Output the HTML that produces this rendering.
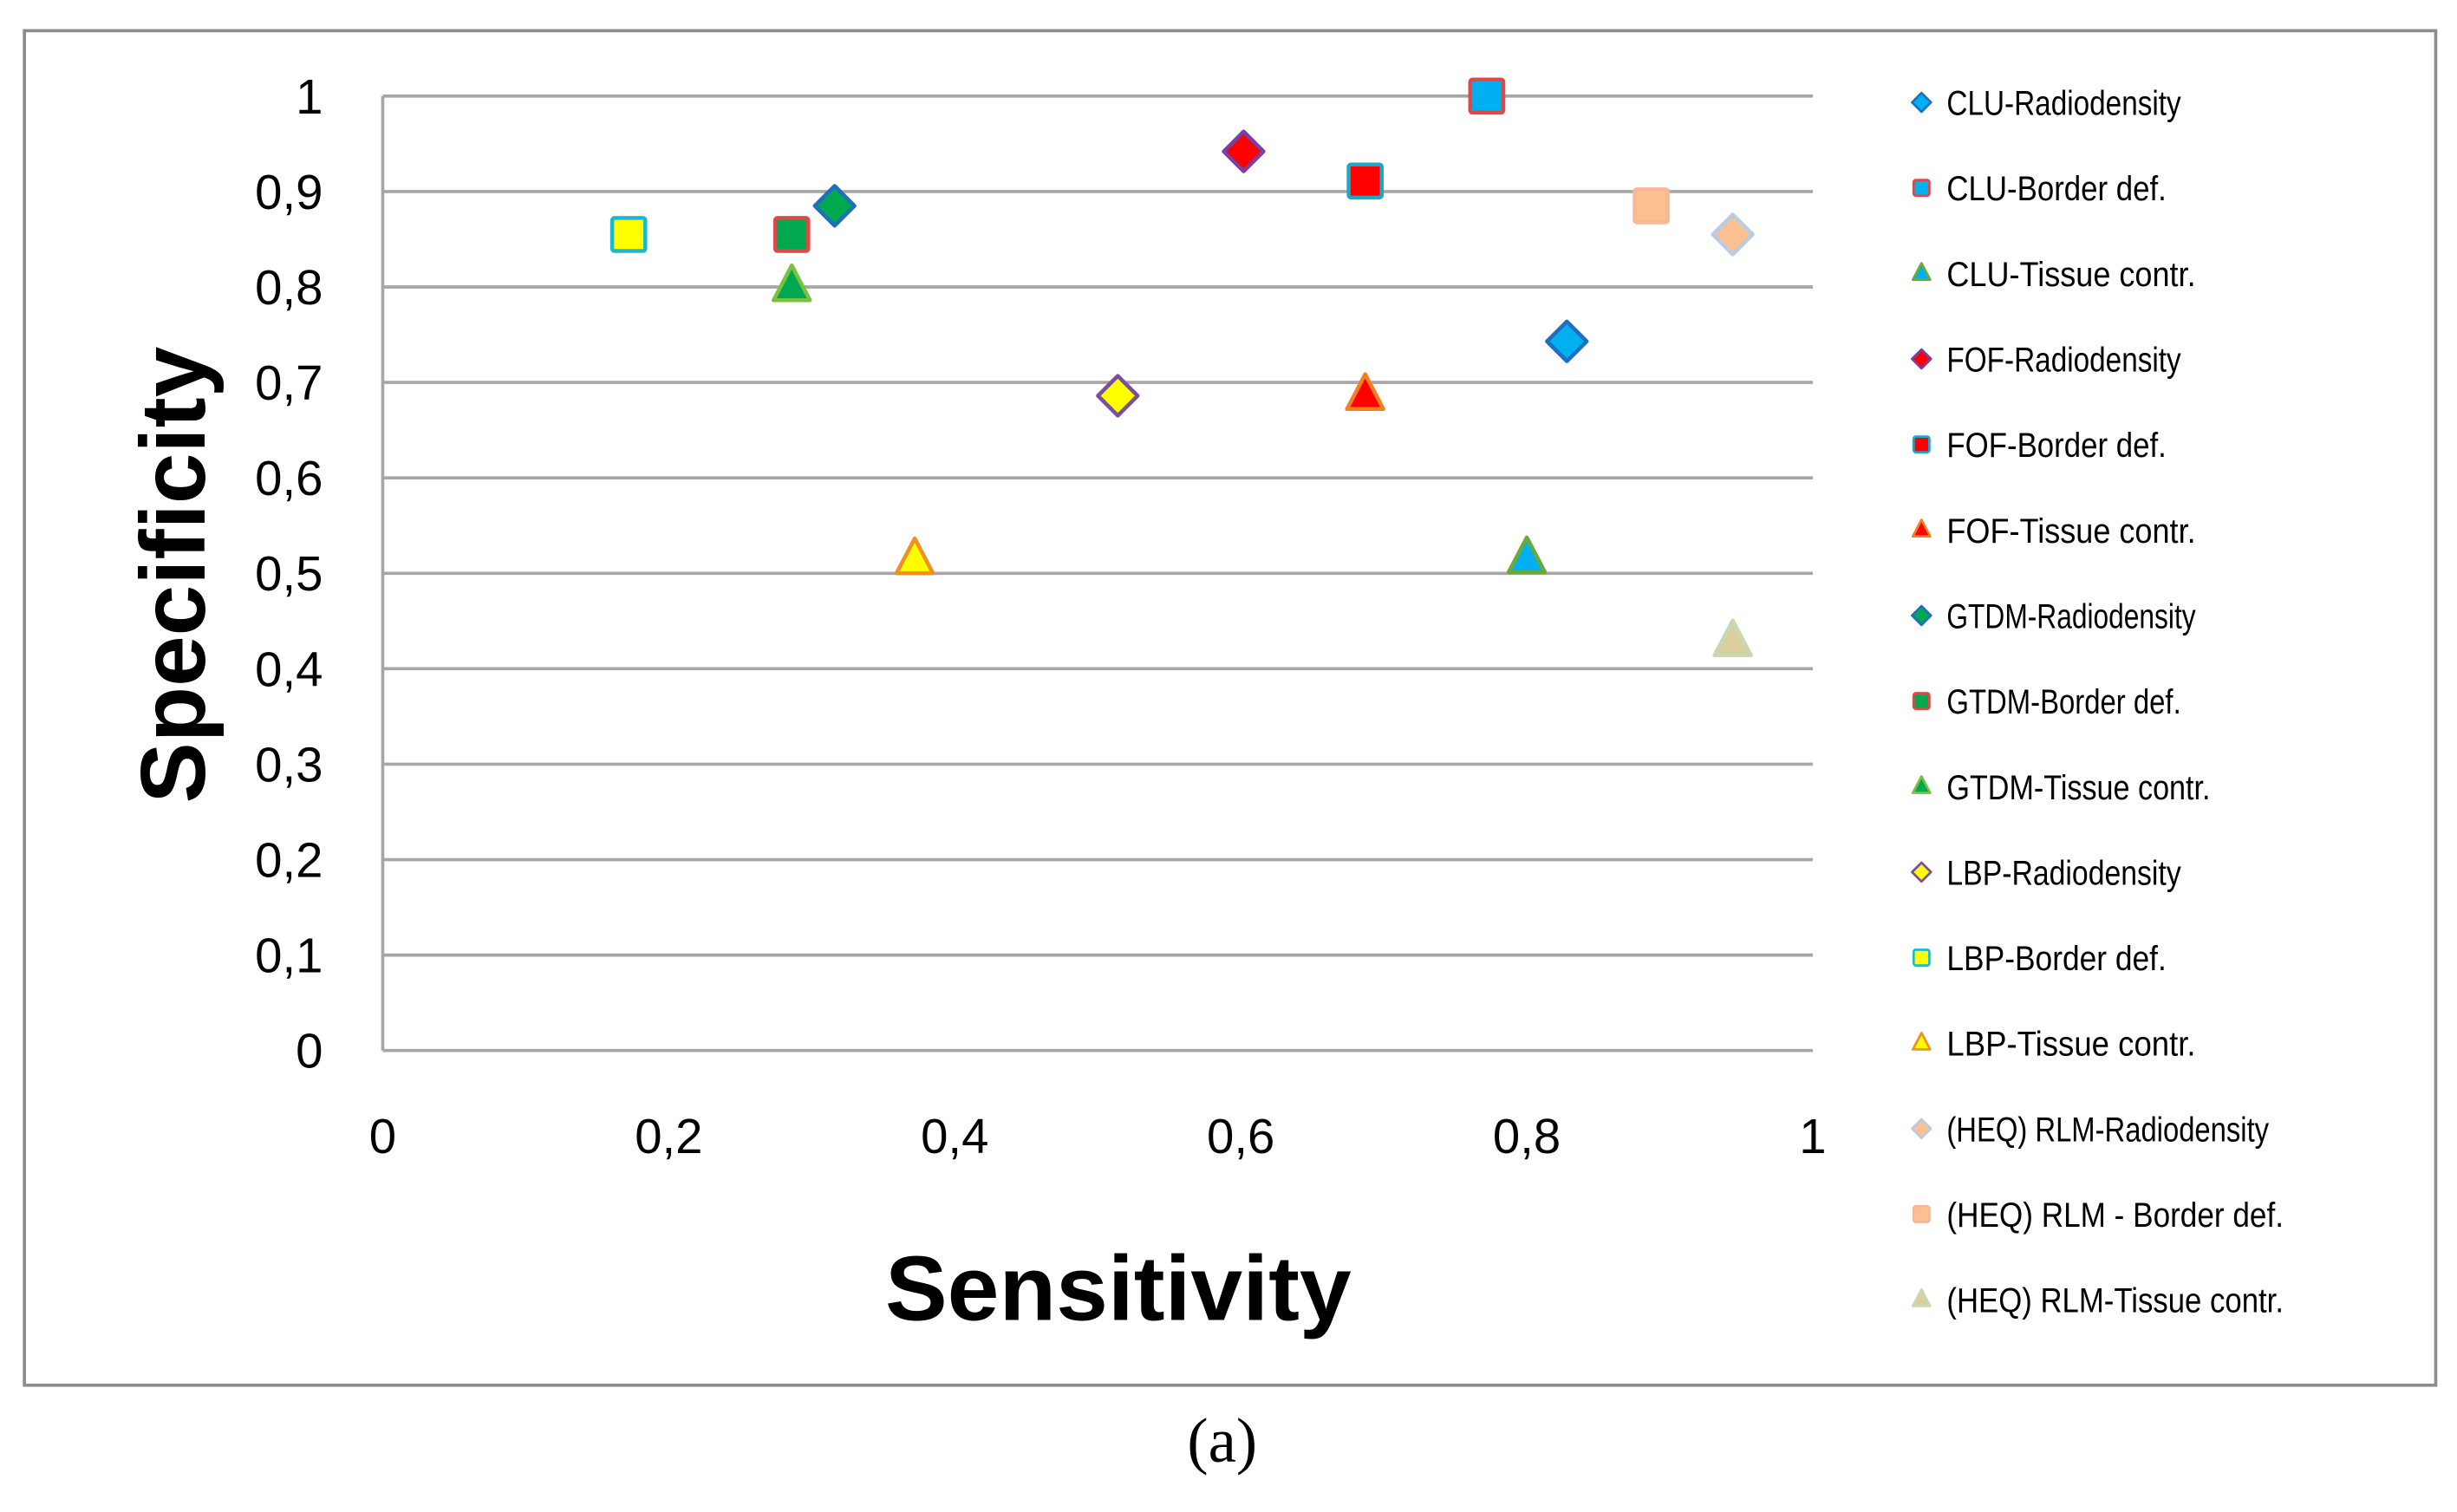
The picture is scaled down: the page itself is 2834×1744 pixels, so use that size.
<!DOCTYPE html>
<html><head><meta charset="utf-8"><style>
html,body{margin:0;padding:0;background:#fff;}
svg{display:block;}
text{font-family:"Liberation Sans",sans-serif;}
</style></head><body>
<svg id="chart" width="2834" height="1744" viewBox="0 0 1560 960" preserveAspectRatio="none" xmlns="http://www.w3.org/2000/svg">
<rect x="15.5" y="19.5" width="1531" height="860" fill="#fff" stroke="#8c8c8c" stroke-width="2"/>
<g id="grid"></g>
<g id="yticks"></g>
<g id="xticks"></g>
<text transform="translate(130,365) rotate(-90)" text-anchor="middle" font-size="58" font-weight="bold" textLength="290" lengthAdjust="spacingAndGlyphs">Specificity</text>
<text x="710" y="838" text-anchor="middle" font-size="58" font-weight="bold" textLength="296" lengthAdjust="spacingAndGlyphs">Sensitivity</text>
<g id="points"></g>
<g id="legend"></g>
<text x="776" y="928" text-anchor="middle" font-size="40" style="font-family:'Liberation Serif',serif">(a)</text>
</svg>
<script>
const seriesNames = ["CLU-Radiodensity","CLU-Border def.","CLU-Tissue contr.","FOF-Radiodensity","FOF-Border def.","FOF-Tissue contr.","GTDM-Radiodensity","GTDM-Border def.","GTDM-Tissue contr.","LBP-Radiodensity","LBP-Border def.","LBP-Tissue contr.","(HEQ) RLM-Radiodensity","(HEQ) RLM - Border def.","(HEQ) RLM-Tissue contr."];
const sensitivity = [0.828,0.772,0.800,0.602,0.687,0.687,0.316,0.286,0.286,0.514,0.172,0.372,0.944,0.887,0.944];
const specificity = [0.743,1.000,0.515,0.942,0.911,0.686,0.885,0.855,0.800,0.686,0.855,0.514,0.855,0.885,0.428];
const markerShapes = ["diamond","square","triangle","diamond","square","triangle","diamond","square","triangle","diamond","square","triangle","diamond","square","triangle"];
const fills = ["#00b0f0","#00b0f0","#00b0f0","#ff0000","#ff0000","#ff0000","#00a84f","#00a84f","#00a84f","#ffff00","#ffff00","#ffff00","#fac090","#fac090","#d9cfa0"];
const strokes = ["#1f6fbf","#e04848","#6aaa3a","#7a3fa0","#1aa8c8","#f08020","#1f6fbf","#e04848","#7ac043","#7a4fa0","#1ab8d8","#f09020","#b8cce4","#f8b898","#c8d8b0"];
const xTickLabels = ["0","0,2","0,4","0,6","0,8","1"];
const yTickLabels = ["0","0,1","0,2","0,3","0,4","0,5","0,6","0,7","0,8","0,9","1"];

const NS="http://www.w3.org/2000/svg";
const X0=243,X1=1151,Y0=667,Y1=61;
const xs=v=>X0+v*(X1-X0);
const ys=v=>Y0-v*(Y0-Y1);
function mk(tag,attrs,parent){const e=document.createElementNS(NS,tag);for(const k in attrs)e.setAttribute(k,attrs[k]);parent.appendChild(e);return e;}
const grid=document.getElementById('grid'),yt=document.getElementById('yticks'),xt=document.getElementById('xticks');
yTickLabels.forEach((l,i)=>{
  const v=i/(yTickLabels.length-1);
  const ln=mk('line',{x1:X0,x2:X1,y1:ys(v),y2:ys(v),stroke:'#a6a6a6','stroke-width':2},grid);
  
  
  const t=mk('text',{x:205,y:ys(v)+11,'text-anchor':'end','font-size':31},yt);
  t.textContent=l;
  
  
});
const ax=mk('line',{x1:X0,x2:X0,y1:Y1,y2:Y0,stroke:'#a6a6a6','stroke-width':2},grid);


xTickLabels.forEach((l,i)=>{
  const v=i/(xTickLabels.length-1);
  const t=mk('text',{x:xs(v),y:732,'text-anchor':'middle','font-size':31},xt);
  t.textContent=l;
  
  
});
function marker(shape,cx,cy,s,fill,stroke,sw,parent){
  let e;
  if(shape==='square') e=mk('rect',{x:cx-s/2,y:cy-s/2,width:s,height:s,rx:1.5},parent);
  else if(shape==='diamond') e=mk('polygon',{points:`${cx},${cy-s*0.6} ${cx+s*0.6},${cy} ${cx},${cy+s*0.6} ${cx-s*0.6},${cy}`},parent);
  else e=mk('polygon',{points:`${cx},${cy-s*0.65} ${cx+s*0.55},${cy+s*0.4} ${cx-s*0.55},${cy+s*0.4}`},parent);
  e.setAttribute('fill',fill);e.setAttribute('stroke',stroke);e.setAttribute('stroke-width',sw);e.setAttribute('stroke-linejoin','round');
  return e;
}
const pts=document.getElementById('points'),leg=document.getElementById('legend');
seriesNames.forEach((n,i)=>{
  const m=marker(markerShapes[i],xs(sensitivity[i]),ys(specificity[i]),21,fills[i],strokes[i],2.5,pts);
  
  
  const ly=65+i*54.3;
  const lm=marker(markerShapes[i],1220,ly,10,fills[i],strokes[i],1.5,leg);
  
  
  const t=mk('text',{x:1236,y:ly+8,'font-size':22},leg);
  t.textContent=n;
  t.setAttribute('textLength', n.length*9.3);
  t.setAttribute('lengthAdjust','spacingAndGlyphs');
  
  
});
</script>
</body></html>
